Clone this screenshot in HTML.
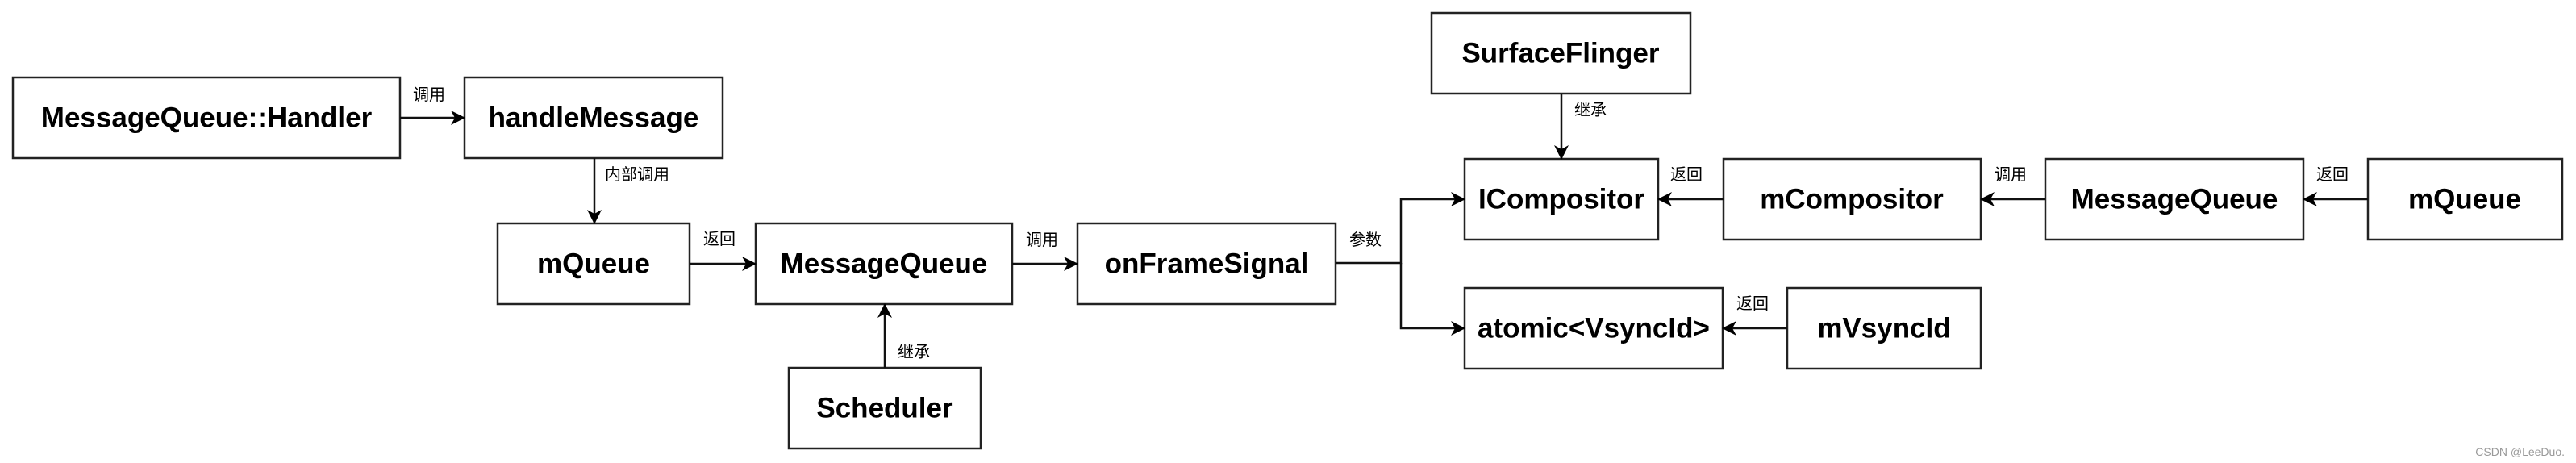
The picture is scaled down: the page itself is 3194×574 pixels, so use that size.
<!DOCTYPE html>
<html><head><meta charset="utf-8"><style>
html,body{margin:0;padding:0;background:#fff;}
svg{display:block}
.b{fill:#fff;stroke:#222;stroke-width:2.5}
.t{font-family:"Liberation Sans",sans-serif;font-weight:bold;font-size:35px;fill:#000;text-anchor:middle;dominant-baseline:central}
.l{font-family:"Liberation Sans","Noto Sans CJK SC",sans-serif;font-size:20px;fill:#000}
.e{stroke:#111;stroke-width:2.5;fill:none}
</style></head><body>
<svg width="3194" height="574" viewBox="0 0 3194 574" xmlns="http://www.w3.org/2000/svg">
<defs>
<marker id="a" markerWidth="20" markerHeight="20" refX="17" refY="9" orient="auto" markerUnits="userSpaceOnUse">
<path d="M0,0 L18,9 L0,18 L5,9 Z" fill="#000"/>
</marker>
</defs>
<!-- boxes -->
<rect class="b" x="16" y="96" width="480" height="100"/><text class="t" x="256" y="146">MessageQueue::Handler</text>
<rect class="b" x="576" y="96" width="320" height="100"/><text class="t" x="736" y="146">handleMessage</text>
<rect class="b" x="617" y="277" width="238" height="100"/><text class="t" x="736" y="327">mQueue</text>
<rect class="b" x="937" y="277" width="318" height="100"/><text class="t" x="1096" y="327">MessageQueue</text>
<rect class="b" x="978" y="456" width="238" height="100"/><text class="t" x="1097" y="506">Scheduler</text>
<rect class="b" x="1336" y="277" width="320" height="100"/><text class="t" x="1496" y="327">onFrameSignal</text>
<rect class="b" x="1775" y="16" width="321" height="100"/><text class="t" x="1935" y="66">SurfaceFlinger</text>
<rect class="b" x="1816" y="197" width="240" height="100"/><text class="t" x="1936" y="247">ICompositor</text>
<rect class="b" x="1816" y="357" width="320" height="100"/><text class="t" x="1976" y="407">atomic&lt;VsyncId&gt;</text>
<rect class="b" x="2137" y="197" width="319" height="100"/><text class="t" x="2296" y="247">mCompositor</text>
<rect class="b" x="2536" y="197" width="320" height="100"/><text class="t" x="2696" y="247">MessageQueue</text>
<rect class="b" x="2936" y="197" width="241" height="100"/><text class="t" x="3056" y="247">mQueue</text>
<rect class="b" x="2216" y="357" width="240" height="100"/><text class="t" x="2336" y="407">mVsyncId</text>
<!-- edges -->
<path class="e" d="M496,146 L576,146" marker-end="url(#a)"/>
<path class="e" d="M737,196 L737,277" marker-end="url(#a)"/>
<path class="e" d="M855,327 L937,327" marker-end="url(#a)"/>
<path class="e" d="M1097,456 L1097,377" marker-end="url(#a)"/>
<path class="e" d="M1255,327 L1336,327" marker-end="url(#a)"/>
<path class="e" d="M1656,326 L1737,326 L1737,247 L1816,247" marker-end="url(#a)"/>
<path class="e" d="M1737,326 L1737,407 L1816,407" marker-end="url(#a)"/>
<path class="e" d="M1936,116 L1936,197" marker-end="url(#a)"/>
<path class="e" d="M2137,247 L2056,247" marker-end="url(#a)"/>
<path class="e" d="M2536,247 L2456,247" marker-end="url(#a)"/>
<path class="e" d="M2936,247 L2856,247" marker-end="url(#a)"/>
<path class="e" d="M2216,407 L2136,407" marker-end="url(#a)"/>
<!-- labels -->
<text class="l" x="512" y="124">调用</text>
<text class="l" x="750" y="223">内部调用</text>
<text class="l" x="872" y="303">返回</text>
<text class="l" x="1113" y="443">继承</text>
<text class="l" x="1272" y="304">调用</text>
<text class="l" x="1673" y="304">参数</text>
<text class="l" x="1952" y="143">继承</text>
<text class="l" x="2071" y="223">返回</text>
<text class="l" x="2473" y="223">调用</text>
<text class="l" x="2872" y="223">返回</text>
<text class="l" x="2153" y="383">返回</text>
<text x="3180" y="565" font-family="Liberation Sans,sans-serif" font-size="14" fill="#999" text-anchor="end">CSDN @LeeDuo.</text>
</svg>
</body></html>
